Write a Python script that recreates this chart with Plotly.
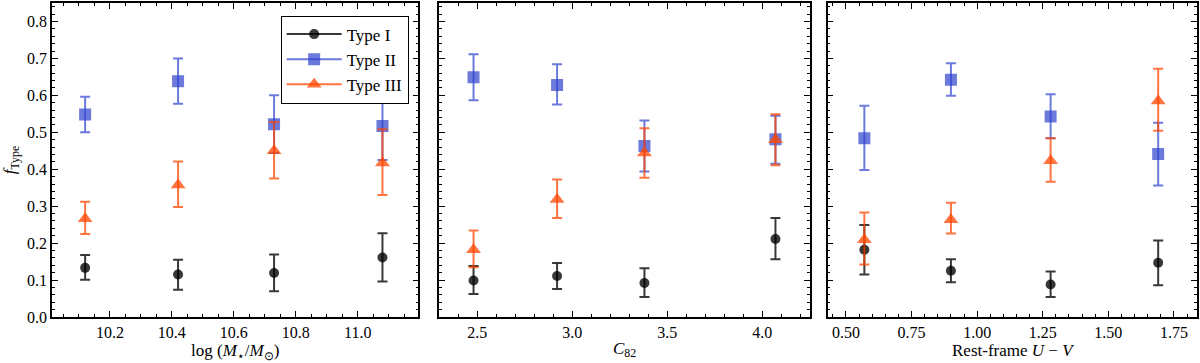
import plotly.graph_objects as go

# bin centres for each panel
mass_x = [10.12, 10.42, 10.73, 11.08]
c82_x = [2.48, 2.92, 3.38, 4.07]
uv_x = [0.57, 0.90, 1.28, 1.69]

# fractions per type, with upper / lower error-bar ends
mass_t1 = [0.133, 0.115, 0.119, 0.161]
mass_t1_hi = [0.168, 0.155, 0.169, 0.227]
mass_t1_lo = [0.101, 0.074, 0.070, 0.096]
mass_t2 = [0.548, 0.638, 0.522, 0.517]
mass_t2_hi = [0.596, 0.700, 0.600, 0.605]
mass_t2_lo = [0.500, 0.577, 0.444, 0.425]
mass_t3 = [0.266, 0.357, 0.450, 0.417]
mass_t3_hi = [0.312, 0.421, 0.528, 0.508]
mass_t3_lo = [0.225, 0.298, 0.375, 0.330]

c82_t1 = [0.099, 0.111, 0.092, 0.211]
c82_t1_hi = [0.138, 0.146, 0.132, 0.268]
c82_t1_lo = [0.062, 0.076, 0.054, 0.156]
c82_t2 = [0.649, 0.628, 0.463, 0.481]
c82_t2_hi = [0.711, 0.684, 0.532, 0.545]
c82_t2_lo = [0.587, 0.575, 0.394, 0.415]
c82_t3 = [0.182, 0.318, 0.444, 0.480]
c82_t3_hi = [0.234, 0.372, 0.511, 0.549]
c82_t3_lo = [0.135, 0.268, 0.377, 0.411]

uv_t1 = [0.182, 0.125, 0.088, 0.147]
uv_t1_hi = [0.249, 0.156, 0.123, 0.207]
uv_t1_lo = [0.115, 0.094, 0.054, 0.086]
uv_t2 = [0.484, 0.642, 0.543, 0.441]
uv_t2_hi = [0.572, 0.687, 0.603, 0.526]
uv_t2_lo = [0.398, 0.599, 0.484, 0.356]
uv_t3 = [0.209, 0.263, 0.423, 0.585]
uv_t3_hi = [0.283, 0.309, 0.484, 0.672]
uv_t3_lo = [0.142, 0.226, 0.366, 0.504]

type_names = ["Type I", "Type II", "Type III"]
colors = ["rgba(0,0,0,0.78)", "rgba(45,65,205,0.7)", "rgba(255,69,0,0.75)"]
symbols = ["circle", "square", "triangle-up"]
sizes = [10, 12, 13]

panels = [
    (mass_x, [(mass_t1, mass_t1_hi, mass_t1_lo), (mass_t2, mass_t2_hi, mass_t2_lo), (mass_t3, mass_t3_hi, mass_t3_lo)]),
    (c82_x, [(c82_t1, c82_t1_hi, c82_t1_lo), (c82_t2, c82_t2_hi, c82_t2_lo), (c82_t3, c82_t3_hi, c82_t3_lo)]),
    (uv_x, [(uv_t1, uv_t1_hi, uv_t1_lo), (uv_t2, uv_t2_hi, uv_t2_lo), (uv_t3, uv_t3_hi, uv_t3_lo)]),
]

fig = go.Figure()

for p, (xs, series) in enumerate(panels):
    ax = "" if p == 0 else str(p + 1)
    for k, (ys, hi, lo) in enumerate(series):
        fig.add_trace(go.Scatter(
            x=xs, y=ys, mode="markers",
            xaxis="x" + ax, yaxis="y" + ax,
            marker=dict(symbol=symbols[k], size=sizes[k], color=colors[k], line=dict(width=0)),
            error_y=dict(type="data", symmetric=False,
                         array=[h - y for h, y in zip(hi, ys)],
                         arrayminus=[y - l for y, l in zip(ys, lo)],
                         color=colors[k], thickness=2, width=5),
            showlegend=False,
        ))

# legend-only entries (line + marker, like the matplotlib errorbar handles)
for k in range(3):
    fig.add_trace(go.Scatter(
        x=[None], y=[None], mode="lines+markers", name=type_names[k],
        marker=dict(symbol=symbols[k], size=sizes[k], color=colors[k]),
        line=dict(color=colors[k], width=2),
    ))

font = dict(family="Liberation Serif", size=16, color="black")
title_font = dict(family="Liberation Serif", size=17, color="black")

def xaxis_style(rng, dtick, minor_dtick, title, domain, anchor):
    return dict(domain=domain, anchor=anchor, range=rng, dtick=dtick,
                tickformat=".2f" if dtick == 0.25 else ".1f",
                ticks="inside", ticklen=6, tickwidth=1.2, tickcolor="black",
                minor=dict(ticks="inside", ticklen=3, dtick=minor_dtick, tickcolor="black"),
                showline=True, linecolor="black", linewidth=1.5, mirror="allticks",
                showgrid=False, zeroline=False, tickfont=font,
                title=dict(text=title, font=title_font, standoff=2))

def yaxis_style(anchor, labels):
    return dict(domain=[0, 1], anchor=anchor, range=[0, 0.85], dtick=0.1, tickformat=".1f",
                ticks="inside", ticklen=6, tickwidth=1.2, tickcolor="black",
                minor=dict(ticks="inside", ticklen=3, dtick=0.02, tickcolor="black"),
                showline=True, linecolor="black", linewidth=1.5, mirror="allticks",
                showgrid=False, zeroline=False, tickfont=font, showticklabels=labels)

fig.update_layout(
    width=1200, height=363,
    margin=dict(l=52, r=1, t=1, b=46),
    plot_bgcolor="white", paper_bgcolor="white",
    font=font,
    xaxis=xaxis_style([10.013, 11.196], 0.2, 0.05, "log (<i>M</i><sub>⋆</sub>/<i>M</i><sub>⊙</sub>)", [0, 0.32], "y"),
    xaxis2=xaxis_style([2.30, 4.25], 0.5, 0.1, "<i>C</i><sub>82</sub>", [0.3383, 0.6617], "y2"),
    xaxis3=xaxis_style([0.43, 1.838], 0.25, 0.05, "Rest-frame <i>U</i> − <i>V</i>", [0.6774, 1.0], "y3"),
    yaxis=yaxis_style("x", True),
    yaxis2=yaxis_style("x2", False),
    yaxis3=yaxis_style("x3", False),
    legend=dict(x=0.1997, y=0.96, xanchor="left", yanchor="top",
                bordercolor="black", borderwidth=1, bgcolor="white",
                font=dict(family="Liberation Serif", size=17), tracegroupgap=0,
                itemwidth=55),
)
fig.update_layout(yaxis_title=dict(text="<i>f</i><sub>Type</sub>", font=title_font, standoff=8))

# drop the default body margin so the figure sits at the window's corner
fig.write_html("out.html", config={"displayModeBar": False},
               post_script="document.body.style.margin='0';")
